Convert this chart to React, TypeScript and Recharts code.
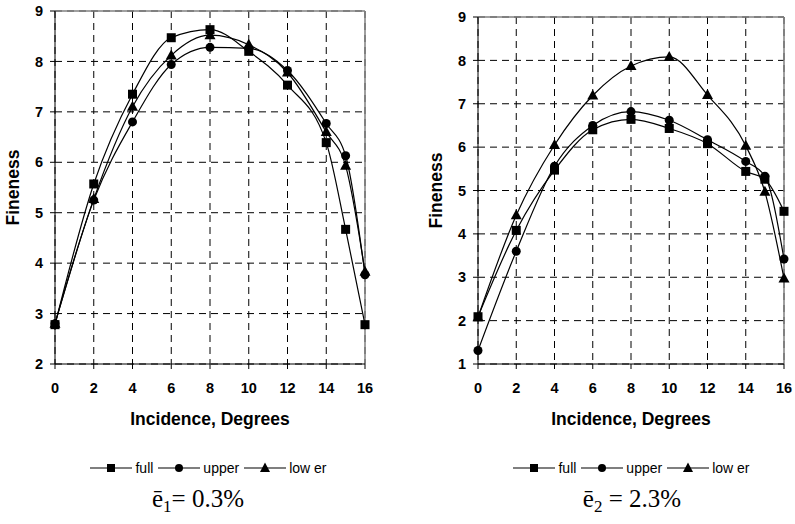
import { LineChart, Line, XAxis, YAxis, CartesianGrid, ReferenceLine } from "recharts";

// incidence angles (degrees)
const incidence = [0, 2, 4, 6, 8, 10, 12, 14, 15, 16];

// left chart, e1 = 0.3%
const leftFull = [2.78, 5.57, 7.35, 8.47, 8.63, 8.2, 7.53, 6.39, 4.67, 2.78];
const leftUpper = [2.8, 5.25, 6.8, 7.94, 8.28, 8.26, 7.82, 6.77, 6.13, 3.77];
const leftLower = [2.8, 5.27, 7.1, 8.12, 8.52, 8.33, 7.78, 6.6, 5.93, 3.83];

// right chart, e2 = 2.3%
const rightFull = [2.09, 4.08, 5.47, 6.4, 6.64, 6.43, 6.08, 5.44, 5.26, 4.52];
const rightUpper = [1.31, 3.6, 5.56, 6.5, 6.82, 6.62, 6.17, 5.67, 5.33, 3.42];
const rightLower = [2.08, 4.43, 6.05, 7.19, 7.87, 8.08, 7.2, 6.03, 4.97, 2.97];

const xTicks = [0, 2, 4, 6, 8, 10, 12, 14, 16];
const leftYTicks = [2, 3, 4, 5, 6, 7, 8, 9];
const rightYTicks = [1, 2, 3, 4, 5, 6, 7, 8, 9];

const legendItems = [
  { name: "full", marker: "square" },
  { name: "upper", marker: "circle" },
  { name: "low er", marker: "triangle" },
];

const SANS = "'Liberation Sans', Arial, sans-serif";
const SERIF = "'Liberation Serif', 'Times New Roman', serif";

const build = (full: number[], upper: number[], lower: number[]) =>
  incidence.map((x, i) => ({ x, full: full[i], upper: upper[i], lower: lower[i] }));

const leftData = build(leftFull, leftUpper, leftLower);
const rightData = build(rightFull, rightUpper, rightLower);

const SquareDot = (p: any) => {
  if (p.cx == null || p.cy == null) return <g key={p.index} />;
  return <rect key={p.index} x={p.cx - 4.5} y={p.cy - 4.5} width={9} height={9} fill="#000" />;
};
const CircleDot = (p: any) => {
  if (p.cx == null || p.cy == null) return <g key={p.index} />;
  return <circle key={p.index} cx={p.cx} cy={p.cy} r={4.5} fill="#000" />;
};
const TriangleDot = (p: any) => {
  if (p.cx == null || p.cy == null) return <g key={p.index} />;
  const { cx, cy } = p;
  return (
    <polygon
      key={p.index}
      points={`${cx},${cy - 6} ${cx - 5.5},${cy + 4} ${cx + 5.5},${cy + 4}`}
      fill="#000"
    />
  );
};

const tickStyle = { fontFamily: SANS, fontWeight: "bold", fontSize: 14.5, fill: "#000" };
const titleStyle = { fontFamily: SANS, fontWeight: "bold", fontSize: 17.5, fill: "#000" };

function FinenessChart({
  data,
  yTicks,
  yMin,
  width,
  yAxisWidth,
  margin,
}: {
  data: any[];
  yTicks: number[];
  yMin: number;
  width: number;
  yAxisWidth: number;
  margin: { top: number; right: number; left: number; bottom: number };
}) {
  return (
    <LineChart width={width} height={440} data={data} margin={margin}>
      <CartesianGrid stroke="#000" strokeDasharray="7 5" />
      <XAxis
        dataKey="x"
        type="number"
        domain={[0, 16]}
        ticks={xTicks}
        height={76}
        tick={tickStyle}
        tickSize={5}
        tickMargin={14}
        stroke="#000"
        label={(p: any) => {
          const vb = p.viewBox;
          return (
            <text
              x={vb.x + vb.width / 2}
              y={vb.y + 55}
              textAnchor="middle"
              dominantBaseline="central"
              style={titleStyle}
            >
              Incidence, Degrees
            </text>
          );
        }}
      />
      <YAxis
        type="number"
        domain={[yMin, 9]}
        ticks={yTicks}
        width={yAxisWidth}
        tick={tickStyle}
        tickSize={5}
        tickMargin={7}
        stroke="#000"
        label={(p: any) => {
          const vb = p.viewBox;
          const cx = vb.x + vb.width - 42.5;
          const cy = vb.y + vb.height / 2;
          return (
            <text
              x={cx}
              y={cy}
              transform={`rotate(-90, ${cx}, ${cy})`}
              textAnchor="middle"
              dominantBaseline="central"
              style={titleStyle}
            >
              Fineness
            </text>
          );
        }}
      />
      <ReferenceLine y={9} stroke="#808080" strokeWidth={1.5} />
      <ReferenceLine x={16} stroke="#808080" strokeWidth={1.5} />
      <Line
        type="monotone"
        dataKey="full"
        stroke="#000"
        strokeWidth={1.2}
        dot={SquareDot}
        activeDot={false}
        isAnimationActive={false}
      />
      <Line
        type="monotone"
        dataKey="upper"
        stroke="#000"
        strokeWidth={1.2}
        dot={CircleDot}
        activeDot={false}
        isAnimationActive={false}
      />
      <Line
        type="monotone"
        dataKey="lower"
        stroke="#000"
        strokeWidth={1.2}
        dot={TriangleDot}
        activeDot={false}
        isAnimationActive={false}
      />
    </LineChart>
  );
}

function LegendIcon({ marker }: { marker: string }) {
  return (
    <svg width={42} height={12} style={{ display: "block" }}>
      <line x1={0} y1={6} x2={42} y2={6} stroke="#000" strokeWidth={1.2} />
      {marker === "square" && <rect x={17} y={2} width={8} height={8} fill="#000" />}
      {marker === "circle" && <circle cx={21} cy={6} r={4} fill="#000" />}
      {marker === "triangle" && <polygon points="21,0.5 16,10 26,10" fill="#000" />}
    </svg>
  );
}

function SeriesLegend({ centerX }: { centerX: number }) {
  return (
    <div
      style={{
        position: "absolute",
        left: centerX - 150,
        width: 300,
        top: 460,
        display: "flex",
        justifyContent: "center",
        alignItems: "center",
        fontFamily: SANS,
        fontSize: 14,
        color: "#000",
        lineHeight: "16px",
      }}
    >
      {legendItems.map((it) => (
        <div key={it.name} style={{ display: "flex", alignItems: "center", marginRight: 5 }}>
          <LegendIcon marker={it.marker} />
          <span style={{ marginLeft: 3 }}>{it.name}</span>
        </div>
      ))}
    </div>
  );
}

function Caption({ centerX, sub, rest }: { centerX: number; sub: string; rest: string }) {
  return (
    <div
      style={{
        position: "absolute",
        left: centerX - 100,
        width: 200,
        top: 484,
        textAlign: "center",
        fontFamily: SERIF,
        fontSize: 25,
        color: "#000",
        lineHeight: "30px",
        whiteSpace: "pre",
      }}
    >
      {"ē"}
      <sub style={{ fontSize: 17, verticalAlign: "-5px" }}>{sub}</sub>
      {rest}
    </div>
  );
}

export default function App() {
  return (
    <div
      style={{
        position: "absolute",
        left: 0,
        top: 0,
        width: 795,
        height: 524,
        background: "#fff",
        overflow: "hidden",
      }}
    >
      <div style={{ position: "absolute", left: 0, top: 0 }}>
        <FinenessChart
          data={leftData}
          yTicks={leftYTicks}
          yMin={2}
          width={400}
          yAxisWidth={55}
          margin={{ top: 11, right: 35, left: 0, bottom: 0 }}
        />
      </div>
      <div style={{ position: "absolute", left: 400, top: 0 }}>
        <FinenessChart
          data={rightData}
          yTicks={rightYTicks}
          yMin={1}
          width={395}
          yAxisWidth={78}
          margin={{ top: 17, right: 11, left: 0, bottom: 0 }}
        />
      </div>
      <SeriesLegend centerX={211} />
      <SeriesLegend centerX={634} />
      <Caption centerX={198} sub="1" rest="= 0.3%" />
      <Caption centerX={632} sub="2" rest=" = 2.3%" />
    </div>
  );
}
